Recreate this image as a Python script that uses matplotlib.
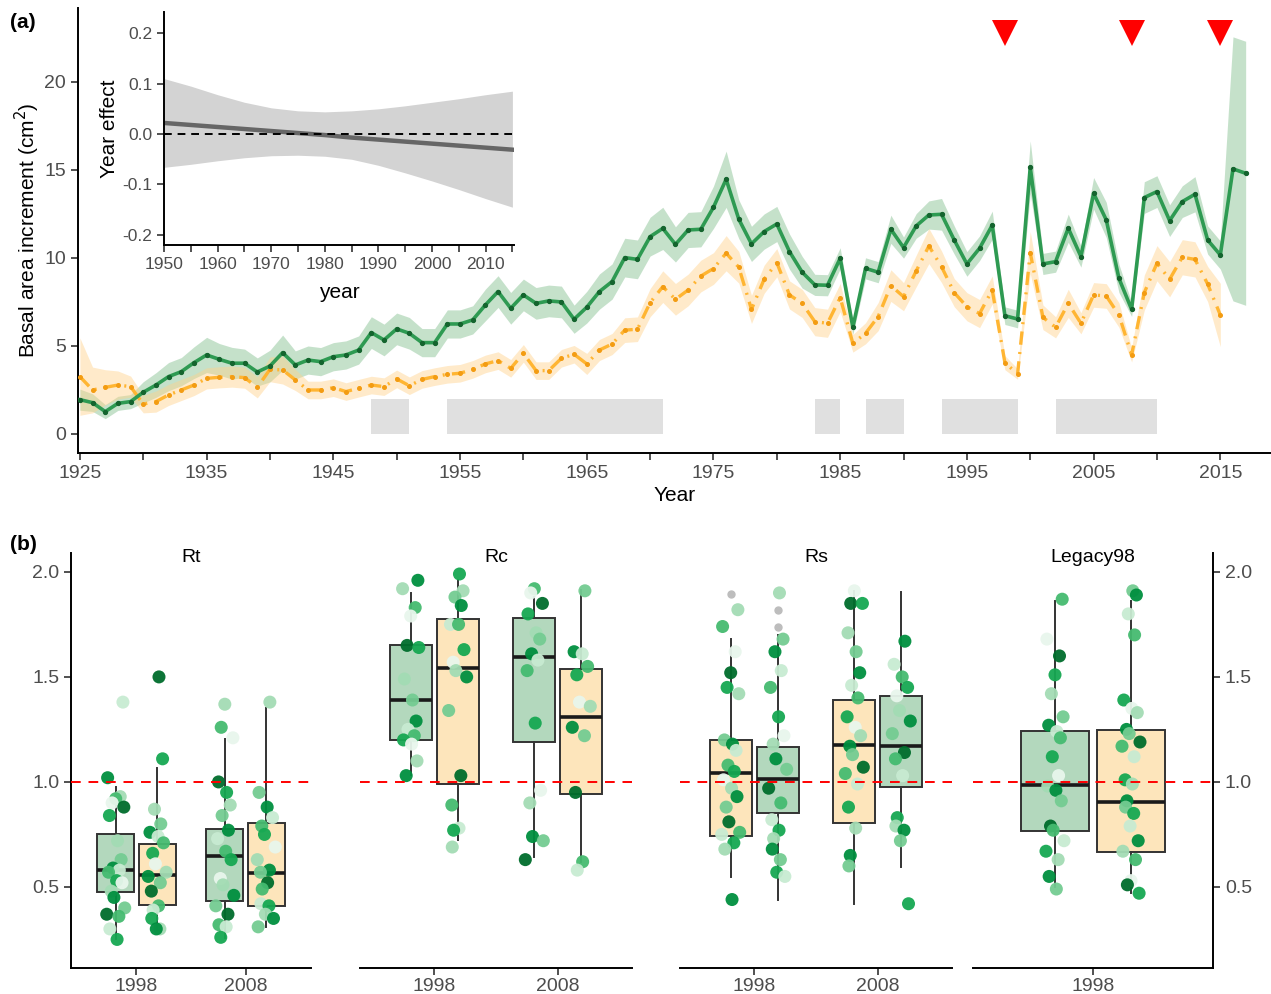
import matplotlib.pyplot as plt
import numpy as np

plt.rcParams['font.family'] = ['Liberation Sans', 'DejaVu Sans']

# ---------------- (a) basal area increment series ----------------
years = np.arange(1925, 2018)
green_bai = [1.95, 1.78, 1.27, 1.74, 1.84, 2.37, 2.78, 3.26, 3.54, 4.05,
             4.49, 4.24, 4.02, 4.02, 3.52, 3.86, 4.62, 3.92, 4.20, 4.11,
             4.39, 4.49, 4.77, 5.76, 5.34, 5.97, 5.72, 5.19, 5.19, 6.25,
             6.25, 6.48, 7.33, 8.09, 7.14, 7.90, 7.42, 7.56, 7.50, 6.52,
             7.20, 8.09, 8.66, 10.02, 9.92, 11.21, 11.68, 10.77, 11.59, 11.63,
             12.88, 14.47, 12.20, 10.80, 11.50, 11.93, 10.36, 9.19, 8.47, 8.45,
             9.98, 6.06, 9.41, 9.19, 11.63, 10.59, 11.82, 12.44, 12.48, 11.02,
             9.66, 10.55, 11.86, 6.72, 6.53, 15.15, 9.66, 9.79, 11.69, 10.08,
             13.67, 12.16, 8.84, 7.08, 13.43, 13.77, 12.12, 13.20, 13.62, 11.02,
             10.17, 15.06, 14.81]
green_se = [0.6, 0.5, 0.4, 0.4, 0.4, 0.6, 0.7, 0.8, 0.8, 0.9,
            1.0, 0.9, 0.9, 0.8, 0.8, 0.9, 1.0, 0.8, 0.8, 0.8,
            0.8, 0.8, 0.8, 0.9, 0.9, 0.9, 0.9, 0.8, 0.8, 0.8,
            0.8, 0.8, 0.9, 0.9, 0.9, 0.9, 0.9, 0.9, 0.9, 0.8,
            0.9, 1.0, 1.0, 1.1, 1.1, 1.1, 1.2, 1.0, 1.0, 1.0,
            1.2, 1.6, 1.1, 1.0, 1.0, 1.0, 1.0, 0.9, 0.6, 0.6,
            0.6, 0.4, 0.6, 0.6, 0.8, 0.6, 0.7, 0.8, 0.9, 0.8,
            0.7, 0.7, 0.8, 0.5, 0.5, 1.5, 0.6, 0.6, 0.8, 0.6,
            0.9, 1.0, 0.8, 0.4, 0.9, 0.9, 0.9, 0.9, 1.0, 0.8,
            0.8, 7.5, 7.5]

orange_years = np.arange(1925, 2016)
orange_bai = [3.26, 2.50, 2.65, 2.78, 2.69, 1.70, 1.84, 2.22, 2.50, 2.78,
              3.16, 3.22, 3.26, 3.20, 2.65, 3.67, 3.64, 3.07, 2.50, 2.50,
              2.63, 2.41, 2.60, 2.78, 2.69, 3.13, 2.74, 3.10, 3.26, 3.39,
              3.45, 3.67, 3.98, 4.17, 3.73, 4.58, 3.60, 3.60, 4.30, 4.53,
              3.98, 4.77, 5.11, 5.90, 5.95, 7.46, 8.37, 7.65, 8.18, 8.97,
              9.40, 10.27, 9.47, 7.08, 8.79, 9.73, 7.90, 7.42, 6.38, 6.29,
              7.75, 5.15, 5.72, 6.67, 8.43, 7.80, 9.26, 10.68, 9.50, 8.03,
              7.23, 6.84, 8.18, 4.05, 3.41, 10.30, 6.63, 6.06, 7.42, 6.29,
              7.90, 7.84, 6.76, 4.49, 8.03, 9.70, 8.79, 10.04, 9.92, 8.52,
              6.76]
orange_se = [2.2, 1.3, 1.0, 0.8, 0.6, 0.5, 0.6, 0.6, 0.6, 0.6,
             0.6, 0.6, 0.6, 0.6, 0.6, 0.7, 0.8, 0.6, 0.5, 0.5,
             0.5, 0.5, 0.5, 0.5, 0.5, 0.5, 0.5, 0.5, 0.5, 0.5,
             0.5, 0.5, 0.5, 0.5, 0.5, 0.5, 0.5, 0.5, 0.5, 0.5,
             0.6, 0.6, 0.6, 0.7, 0.7, 0.8, 0.9, 0.9, 0.9, 0.9,
             0.9, 1.0, 0.9, 0.8, 0.8, 0.8, 0.8, 0.8, 0.8, 0.8,
             0.8, 0.5, 0.6, 0.8, 0.9, 0.8, 0.9, 1.0, 0.9, 0.8,
             0.8, 0.8, 0.8, 0.4, 0.3, 1.2, 0.7, 0.6, 0.8, 0.6,
             0.7, 0.7, 0.7, 0.4, 1.0, 1.0, 1.0, 1.0, 1.0, 1.0,
             1.8]

drought_start = [1948, 1954, 1983, 1987, 1993, 2002]
drought_end = [1951, 1971, 1985, 1990, 1999, 2010]
drought_height = 2.0
event_years = [1998, 2008, 2015]

# inset: year effect
eff_years = [1950, 1955, 1960, 1965, 1970, 1975, 1980, 1985, 1990, 1995, 2000, 2005, 2010, 2015]
eff_fit = [0.022, 0.018, 0.014, 0.010, 0.006, 0.002, -0.002, -0.007, -0.011, -0.015,
           -0.019, -0.023, -0.027, -0.031]
eff_hi = [0.110, 0.095, 0.078, 0.063, 0.052, 0.046, 0.044, 0.046, 0.050, 0.056,
          0.063, 0.070, 0.078, 0.085]
eff_lo = [-0.066, -0.060, -0.053, -0.047, -0.043, -0.042, -0.044, -0.050, -0.062, -0.077,
          -0.093, -0.110, -0.128, -0.145]

# ---------------- (b) resilience indices ----------------
# box stats: [whisker low, q1, median, q3, whisker high]
rt_1998_green_box = [0.25, 0.474, 0.581, 0.751, 0.978]
rt_1998_orange_box = [0.295, 0.414, 0.557, 0.705, 1.068]
rt_2008_green_box = [0.256, 0.435, 0.648, 0.776, 1.205]
rt_2008_orange_box = [0.31, 0.41, 0.565, 0.803, 1.351]
rc_1998_green_box = [1.033, 1.20, 1.39, 1.652, 1.90]
rc_1998_orange_box = [0.724, 0.99, 1.541, 1.775, 1.96]
rc_2008_green_box = [0.644, 1.189, 1.594, 1.779, 1.882]
rc_2008_orange_box = [0.62, 0.943, 1.308, 1.537, 1.914]
rs_1998_orange_box = [0.546, 0.744, 1.041, 1.20, 1.679]
rs_1998_green_box = [0.438, 0.854, 1.013, 1.168, 1.70]
rs_2008_orange_box = [0.419, 0.806, 1.176, 1.39, 1.91]
rs_2008_green_box = [0.594, 0.978, 1.173, 1.411, 1.906]
lg_1998_green_box = [0.498, 0.767, 0.986, 1.243, 1.862]
lg_1998_orange_box = [0.47, 0.668, 0.906, 1.248, 1.86]

rs_1998_orange_out = [1.895]
rs_1998_green_out = [1.74, 1.82]

rt_1998_green = [1.38, 1.02, 0.93, 0.92, 0.90, 0.88, 0.84, 0.72, 0.63, 0.59, 0.58,
                 0.57, 0.53, 0.52, 0.48, 0.45, 0.40, 0.37, 0.36, 0.30, 0.25]
rt_1998_orange = [1.50, 1.11, 0.87, 0.80, 0.76, 0.74, 0.71, 0.66, 0.61, 0.57, 0.55,
                  0.52, 0.48, 0.41, 0.39, 0.35, 0.30, 0.30]
rt_2008_green = [1.37, 1.26, 1.21, 1.00, 0.95, 0.89, 0.84, 0.77, 0.73, 0.67, 0.63,
                 0.54, 0.51, 0.46, 0.41, 0.37, 0.32, 0.31, 0.26]
rt_2008_orange = [1.38, 0.95, 0.88, 0.83, 0.79, 0.75, 0.69, 0.63, 0.58, 0.57, 0.52,
                  0.49, 0.42, 0.41, 0.37, 0.35, 0.31]
rc_1998_green = [1.96, 1.92, 1.83, 1.79, 1.65, 1.64, 1.49, 1.39, 1.29, 1.25, 1.22,
                 1.20, 1.18, 1.10, 1.03]
rc_1998_orange = [1.99, 1.91, 1.88, 1.84, 1.75, 1.75, 1.63, 1.57, 1.53, 1.50, 1.34,
                  1.03, 0.89, 0.78, 0.77, 0.69]
rc_2008_green = [1.92, 1.90, 1.85, 1.80, 1.71, 1.68, 1.61, 1.58, 1.53, 1.28, 0.96,
                 0.90, 0.74, 0.72, 0.63]
rc_2008_orange = [1.91, 1.62, 1.61, 1.55, 1.51, 1.38, 1.36, 1.26, 1.22, 0.95, 0.62, 0.58]
rs_1998_orange = [1.82, 1.74, 1.62, 1.52, 1.45, 1.42, 1.20, 1.18, 1.15, 1.08, 1.05,
                  1.01, 0.97, 0.93, 0.88, 0.81, 0.76, 0.75, 0.71, 0.68, 0.44]
rs_1998_green = [1.90, 1.68, 1.62, 1.53, 1.45, 1.31, 1.22, 1.18, 1.11, 1.06, 0.97,
                 0.90, 0.82, 0.77, 0.73, 0.68, 0.63, 0.57, 0.55]
rs_2008_orange = [1.91, 1.85, 1.85, 1.71, 1.62, 1.52, 1.46, 1.40, 1.31, 1.26, 1.22,
                  1.17, 1.13, 1.07, 1.04, 0.99, 0.88, 0.78, 0.65, 0.60]
rs_2008_green = [1.67, 1.56, 1.50, 1.45, 1.41, 1.34, 1.29, 1.23, 1.14, 1.11, 1.03,
                 0.83, 0.79, 0.77, 0.72, 0.42]
lg_1998_green = [1.87, 1.68, 1.60, 1.51, 1.42, 1.31, 1.27, 1.24, 1.21, 1.12, 1.03,
                 0.98, 0.96, 0.91, 0.79, 0.77, 0.72, 0.67, 0.63, 0.55, 0.49]
lg_1998_orange = [1.91, 1.89, 1.80, 1.70, 1.39, 1.35, 1.33, 1.25, 1.23, 1.19, 1.17,
                  1.12, 1.01, 0.99, 0.91, 0.88, 0.85, 0.79, 0.72, 0.67, 0.63, 0.53,
                  0.51, 0.47]

GREEN_FILL = '#b3d8bd'
ORANGE_FILL = '#fde5bb'
shades = ['#e8f6ec', '#c8ebd2', '#a3dcb4', '#74cc92', '#45bb70', '#16a852', '#008f3f', '#006d2c']
shade_order = [3, 5, 1, 6, 2, 4, 0, 7, 5, 2, 3, 6, 1, 4, 5, 0, 2, 6, 3, 7, 4, 1, 5, 2, 6]
jitter = [-0.6, 0.3, -0.1, 0.8, -0.9, 0.5, 0.0, -0.4, 0.9, -0.7, 0.2, 0.6, -0.3,
          0.4, -0.8, 0.1, 0.7, -0.5, -0.2, 1.0, -1.0, 0.35, -0.65, 0.15, -0.45]

facets = [
    ('Rt', ['1998', '2008'], (71, 311), [
        (1, rt_1998_green_box, rt_1998_green, [], GREEN_FILL, ORANGE_FILL, rt_1998_orange_box, rt_1998_orange, []),
        (2, rt_2008_green_box, rt_2008_green, [], GREEN_FILL, ORANGE_FILL, rt_2008_orange_box, rt_2008_orange, []),
    ]),
    ('Rc', ['1998', '2008'], (360, 632), [
        (1, rc_1998_green_box, rc_1998_green, [], GREEN_FILL, ORANGE_FILL, rc_1998_orange_box, rc_1998_orange, []),
        (2, rc_2008_green_box, rc_2008_green, [], GREEN_FILL, ORANGE_FILL, rc_2008_orange_box, rc_2008_orange, []),
    ]),
    ('Rs', ['1998', '2008'], (680, 952), [
        (1, rs_1998_orange_box, rs_1998_orange, rs_1998_orange_out, ORANGE_FILL, GREEN_FILL, rs_1998_green_box, rs_1998_green, rs_1998_green_out),
        (2, rs_2008_orange_box, rs_2008_orange, [], ORANGE_FILL, GREEN_FILL, rs_2008_green_box, rs_2008_green, []),
    ]),
    ('Legacy98', ['1998'], (973, 1213), [
        (1, lg_1998_green_box, lg_1998_green, [], GREEN_FILL, ORANGE_FILL, lg_1998_orange_box, lg_1998_orange, []),
    ]),
]

W, H = 1271, 994
fig = plt.figure(figsize=(W / 100, H / 100), dpi=100)


def px_axes(left, right, top, bottom):
    return fig.add_axes([left / W, 1 - bottom / H, (right - left) / W, (bottom - top) / H])


TICK_GREY = '#4d4d4d'

# ---- panel (a) ----
ax = px_axes(78, 1271, 8, 453)
for s, e in zip(drought_start, drought_end):
    ax.fill_between([s, e], 0, drought_height, color='#e0e0e0', lw=0, zorder=1)

gy, gse = np.array(green_bai), np.array(green_se)
oy, ose = np.array(orange_bai), np.array(orange_se)
ax.fill_between(years, gy - gse, gy + gse, color='#8cc497', alpha=0.5, lw=0, zorder=2)
ax.fill_between(orange_years, oy - ose, oy + ose, color='#ffd28a', alpha=0.45, lw=0, zorder=2)
ax.plot(orange_years, oy, color='#ffb532', lw=2.4, dashes=(4, 2.2, 0.6, 2.2), zorder=3)
ax.plot(orange_years, oy, 'o', color='#f39c12', ms=2.6, zorder=3)
ax.plot(years, gy, color='#2e9a52', lw=2.6, zorder=4)
ax.plot(years, gy, 'o', color='#14642e', ms=2.8, zorder=4)
ax.plot(event_years, [22.8] * len(event_years), 'v', color='red', ms=19, mew=0, zorder=5)

ax.set_xlim(1924.85, 2019)
ax.set_ylim(-1.08, 24.2)
xt = np.arange(1925, 2016, 5)
ax.set_xticks(xt)
ax.set_xticklabels([str(y) if (y - 1925) % 10 == 0 else '' for y in xt])
ax.set_yticks([0, 5, 10, 15, 20])
ax.tick_params(labelsize=14, labelcolor=TICK_GREY, color='#333333', length=5, width=1.2)
for side in ('top', 'right'):
    ax.spines[side].set_visible(False)
for side in ('left', 'bottom'):
    ax.spines[side].set_linewidth(1.4)
ax.set_xlabel('Year', fontsize=15, labelpad=3)
ax.set_ylabel('Basal area increment (cm$^2$)', fontsize=15, labelpad=2)

# inset
ins = px_axes(164, 514, 12, 245)
ins.patch.set_alpha(0)
ins.fill_between(eff_years, eff_lo, eff_hi, color='#d3d3d3', lw=0)
ins.plot(eff_years, eff_fit, color='#666666', lw=3.2)
ins.axhline(0, color='black', lw=1.4, ls=(0, (4, 3)))
ins.set_xlim(1950, 2015.3)
ins.set_ylim(-0.22, 0.242)
it = np.arange(1950, 2016, 5)
ins.set_xticks(it)
ins.set_xticklabels([str(y) if y % 10 == 0 else '' for y in it])
ins.set_yticks([-0.2, -0.1, 0.0, 0.1, 0.2])
ins.set_yticklabels(['-0.2', '-0.1', '0.0', '0.1', '0.2'])
ins.tick_params(labelsize=12.5, labelcolor=TICK_GREY, color='#333333', length=5, width=1.2)
for side in ('top', 'right'):
    ins.spines[side].set_visible(False)
for side in ('left', 'bottom'):
    ins.spines[side].set_linewidth(1.4)
ins.set_xlabel('year', fontsize=15, labelpad=8)
ins.set_ylabel('Year effect', fontsize=15, labelpad=2)

fig.text(10 / W, 1 - 22 / H, '(a)', fontsize=15, fontweight='bold', va='center')
fig.text(10 / W, 1 - 545 / H, '(b)', fontsize=15, fontweight='bold', va='center')

# ---- panel (b) ----
OFFSET = 0.19
BOX_W = 0.34
for k, (name, cats, (left, right), groups) in enumerate(facets):
    bx = px_axes(left, right, 553, 968)
    xmax = len(cats) + 0.6
    bx.set_xlim(0.4, xmax)
    bx.set_ylim(0.114, 2.09)
    unit_px = (right - left) / (xmax - 0.4)
    jit_scale = 9 / unit_px
    for (pos, box1, pts1, out1, fill1, fill2, box2, pts2, out2) in groups:
        for j, (box, pts, outs, fill) in enumerate([(box1, pts1, out1, fill1), (box2, pts2, out2, fill2)]):
            xc = pos - OFFSET if j == 0 else pos + OFFSET
            stats = dict(whislo=box[0], q1=box[1], med=box[2], q3=box[3], whishi=box[4], fliers=[])
            bx.bxp([stats], positions=[xc], widths=BOX_W, patch_artist=True,
                   showfliers=False, showcaps=False,
                   boxprops=dict(facecolor=fill, edgecolor='#333333', lw=1.4),
                   whiskerprops=dict(color='#333333', lw=1.4),
                   medianprops=dict(color='#1a1a1a', lw=2.6), zorder=2)
            if outs:
                bx.plot([xc] * len(outs), outs, 'o', color='#bdbdbd', ms=5, zorder=2.5)
            xs = [xc + jitter[(i + 7 * j + 3 * pos) % len(jitter)] * jit_scale for i in range(len(pts))]
            cs = [shades[shade_order[(i + 5 * j + 2 * pos + k) % len(shade_order)]] for i in range(len(pts))]
            bx.scatter(xs, pts, s=88, c=cs, edgecolors='none', alpha=0.95, zorder=3)
    bx.axhline(1.0, color='red', lw=1.4, ls=(0, (5, 4)), zorder=4)
    bx.set_xticks(range(1, len(cats) + 1))
    bx.set_xticklabels(cats)
    bx.text(0.5, 0.988, name, transform=bx.transAxes, ha='center', va='center', fontsize=14)
    bx.spines['top'].set_visible(False)
    bx.spines['bottom'].set_linewidth(1.4)
    bx.spines['left'].set_visible(k == 0)
    bx.spines['right'].set_visible(k == len(facets) - 1)
    bx.spines['left'].set_linewidth(1.4)
    bx.spines['right'].set_linewidth(1.4)
    bx.set_yticks([0.5, 1.0, 1.5, 2.0])
    bx.set_yticklabels(['0.5', '1.0', '1.5', '2.0'])
    bx.tick_params(labelsize=14, labelcolor=TICK_GREY, color='#333333', length=5, width=1.2)
    bx.tick_params(axis='x', pad=2)
    if k == len(facets) - 1:
        bx.yaxis.tick_right()
    elif k > 0:
        bx.tick_params(axis='y', left=False, labelleft=False)

fig.savefig('out.png', dpi=100)
